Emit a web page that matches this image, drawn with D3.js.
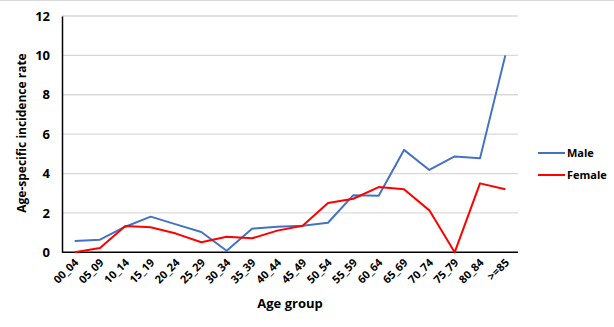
<!DOCTYPE html>
<html><head><meta charset="utf-8">
<script src="https://cdn.jsdelivr.net/npm/d3@7"></script>
<style>body{margin:0;background:#fff;} svg{display:block;}</style>
</head><body>
<svg id="c" width="614" height="327"></svg>
<script>
const categories = ["00_04","05_09","10_14","15_19","20_24","25_29","30_34","35_39","40_44","45_49","50_54","55_59","60_64","65_69","70_74","75_79","80_84",">=85"];
const maleValues = [0.57,0.64,1.3,1.81,1.42,1.03,0.08,1.2,1.3,1.35,1.5,2.9,2.87,5.2,4.18,4.87,4.77,10.0];
const femaleValues = [0.0,0.22,1.33,1.27,0.95,0.51,0.79,0.71,1.1,1.35,2.5,2.72,3.31,3.2,2.13,0.0,3.5,3.2];
const yTicks = [0,2,4,6,8,10,12];
const seriesNames = ["Male","Female"];
const colors = ["#4472C4","#FF0000"];

(function(){
const svg = d3.select("#c");
const font = "'Open Sans', sans-serif";
svg.append("line").attr("x1",0).attr("x2",614).attr("y1",0.5).attr("y2",0.5).attr("stroke","#d9d9d9").attr("stroke-width",1);

const mL = 62, mR = 518, mT = 16, mB = 252.3;
const x = d3.scalePoint().domain(categories).range([mL, mR]).padding(0.5);
const y = d3.scaleLinear().domain([0,12]).range([mB, mT]);

// gridlines
svg.append("g").selectAll("line").data(yTicks.filter(d=>d>0)).join("line")
  .attr("x1",mL).attr("x2",mR).attr("y1",d=>y(d)).attr("y2",d=>y(d))
  .attr("stroke","#d9d9d9").attr("stroke-width",1.3);

// y axis
const ya = svg.append("g").attr("transform",`translate(${mL},0)`)
  .call(d3.axisLeft(y).tickValues(yTicks).tickSize(0).tickPadding(12));
ya.select(".domain").attr("stroke","#000").attr("stroke-width",1.5);
ya.selectAll("text").attr("font-family",font).attr("font-weight","bold").attr("font-size",13).attr("fill","#000");

// x axis
const xa = svg.append("g").attr("transform",`translate(0,${mB})`)
  .call(d3.axisBottom(x).tickSize(0).tickPadding(0));
xa.select(".domain").attr("stroke","#000").attr("stroke-width",1.5).attr("d",`M${mL},0H${mR}`);
xa.selectAll("text").attr("font-family",font).attr("font-weight","bold").attr("font-size",11).attr("fill","#000")
  .attr("text-anchor","end").attr("dy",null).attr("y",0)
  .attr("transform","translate(4,11) rotate(-45)");

// lines
const line = d3.line().x((d,i)=>x(categories[i])).y(d=>y(d));
[maleValues, femaleValues].forEach((vals,k)=>{
  svg.append("path").datum(vals).attr("d",line).attr("fill","none")
    .attr("stroke",colors[k]).attr("stroke-width",2).attr("stroke-linejoin","round");
});

// legend
seriesNames.forEach((n,k)=>{
  const ly = 153 + k*22;
  svg.append("line").attr("x1",538).attr("x2",565).attr("y1",ly).attr("y2",ly).attr("stroke",colors[k]).attr("stroke-width",2);
  svg.append("text").attr("x",567).attr("y",ly+4).text(n)
    .attr("font-family",font).attr("font-weight","bold").attr("font-size",11).attr("fill","#000");
});

// titles
svg.append("text").attr("transform","translate(26,133) rotate(-90)").attr("text-anchor","middle")
  .attr("font-family",font).attr("font-weight","bold").attr("font-size",12).attr("fill","#000")
  .text("Age-specific incidence rate");
svg.append("text").attr("x",290).attr("y",308).attr("text-anchor","middle")
  .attr("font-family",font).attr("font-weight","bold").attr("font-size",13).attr("fill","#000")
  .text("Age group");
})();
</script>
</body></html>
